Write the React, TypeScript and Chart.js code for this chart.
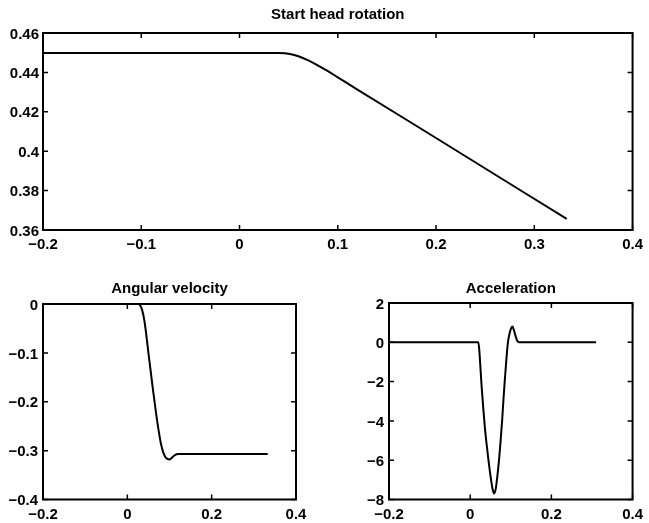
import React, { useEffect, useRef } from "react";
import { Chart, registerables } from "chart.js";

Chart.register(...registerables);

// ---- data ----
const rotationX = [-0.2, 0.04, 0.05, 0.06, 0.07, 0.08, 0.09, 0.1, 0.12, 0.2, 0.333];
const rotationY = [0.4498, 0.4498, 0.4495, 0.4482, 0.4461, 0.4435, 0.4406, 0.4375, 0.4313, 0.4067, 0.3656];

const velocityX = [-0.2, 0.02, 0.025, 0.03, 0.035, 0.04, 0.045, 0.05, 0.055, 0.06, 0.065, 0.07, 0.075, 0.08, 0.085, 0.09, 0.095, 0.1, 0.105, 0.11, 0.115, 0.12, 0.333];
const velocityY = [0, 0, 0, -0.002, -0.012, -0.032, -0.063, -0.1, -0.135, -0.17, -0.203, -0.235, -0.263, -0.287, -0.303, -0.313, -0.317, -0.318, -0.315, -0.311, -0.308, -0.307, -0.307];

const accelX = [-0.2, 0.02, 0.022, 0.025, 0.028, 0.032, 0.036, 0.04, 0.045, 0.05, 0.055, 0.059, 0.063, 0.067, 0.071, 0.075, 0.0786, 0.082, 0.085, 0.089, 0.093, 0.097, 0.101, 0.104, 0.108, 0.112, 0.116, 0.12, 0.31];
const accelY = [0, 0, -0.3, -1.2, -2.2, -3.3, -4.3, -5.1, -6.0, -6.8, -7.45, -7.7, -7.45, -6.8, -6.0, -5.0, -4.0, -2.9, -2.0, -0.9, 0, 0.45, 0.72, 0.8, 0.6, 0.3, 0.08, 0, 0];

// ---- tick labels ----
const rotationXTicks = [-0.2, -0.1, 0, 0.1, 0.2, 0.3, 0.4];
const rotationYTicks = [0.36, 0.38, 0.4, 0.42, 0.44, 0.46];
const bottomXTicks = [-0.2, 0, 0.2, 0.4];
const velocityYTicks = [-0.4, -0.3, -0.2, -0.1, 0];
const accelYTicks = [-8, -6, -4, -2, 0, 2];

const titles = ["Start head rotation", "Angular velocity", "Acceleration"];

const FONT = "'Liberation Sans', Arial, Helvetica, sans-serif";

const fmt = (v: number) => {
  const n = Number(Number(v).toFixed(4));
  return n < 0 ? "\u2212" + String(-n) : String(n);
};

const framePlugin = {
  id: "frame",
  afterDraw(chart: any) {
    const { ctx, chartArea: a, scales } = chart;
    const x = scales.x;
    const y = scales.y;
    ctx.save();
    ctx.strokeStyle = "#000";
    ctx.lineWidth = 2;
    ctx.strokeRect(a.left, a.top, a.right - a.left, a.bottom - a.top);
    ctx.lineWidth = 1.5;
    ctx.beginPath();
    const L = 5;
    x.ticks.forEach((t: any) => {
      const px = x.getPixelForValue(t.value);
      ctx.moveTo(px, a.bottom);
      ctx.lineTo(px, a.bottom - L);
      ctx.moveTo(px, a.top);
      ctx.lineTo(px, a.top + L);
    });
    y.ticks.forEach((t: any) => {
      const py = y.getPixelForValue(t.value);
      ctx.moveTo(a.left, py);
      ctx.lineTo(a.left + L, py);
      ctx.moveTo(a.right, py);
      ctx.lineTo(a.right - L, py);
    });
    ctx.stroke();
    ctx.restore();
  },
};

type Spec = {
  xs: number[];
  ys: number[];
  xTicks: number[];
  yTicks: number[];
  title: string;
  padRight: number;
  yWidth: number;
  xHeight: number;
  titlePadTop: number;
  titlePadBottom: number;
  xLabelPad: number;
  yLabelPad: number;
};

function makeConfig(s: Spec): any {
  const tickFont = { family: FONT, size: 15, weight: "bold" as const };
  return {
    type: "line",
    data: {
      datasets: [
        {
          data: s.xs.map((x, i) => ({ x, y: s.ys[i] })),
          borderColor: "#000",
          borderWidth: 2,
          pointRadius: 0,
          cubicInterpolationMode: "monotone",
          fill: false,
        },
      ],
    },
    options: {
      animation: false,
      responsive: false,
      devicePixelRatio: 1,
      layout: { padding: { left: 0, right: s.padRight, top: 0, bottom: 0 }, autoPadding: false },
      plugins: {
        legend: { display: false },
        tooltip: { enabled: false },
        title: {
          display: true,
          text: s.title,
          fullSize: false,
          color: "#000",
          font: { family: FONT, size: 15, weight: "bold", lineHeight: 1.2 },
          padding: { top: s.titlePadTop, bottom: s.titlePadBottom },
        },
      },
      scales: {
        x: {
          type: "linear",
          min: s.xTicks[0],
          max: s.xTicks[s.xTicks.length - 1],
          afterBuildTicks: (sc: any) => {
            sc.ticks = s.xTicks.map((v) => ({ value: v }));
          },
          afterFit: (sc: any) => {
            sc.height = s.xHeight;
          },
          grid: { display: false, drawTicks: false },
          border: { display: false },
          ticks: {
            callback: (v: number) => fmt(v),
            font: tickFont,
            color: "#000",
            padding: s.xLabelPad,
            maxRotation: 0,
            autoSkip: false,
          },
        },
        y: {
          type: "linear",
          min: s.yTicks[0],
          max: s.yTicks[s.yTicks.length - 1],
          afterBuildTicks: (sc: any) => {
            sc.ticks = s.yTicks.map((v) => ({ value: v }));
          },
          afterFit: (sc: any) => {
            sc.width = s.yWidth;
          },
          grid: { display: false, drawTicks: false },
          border: { display: false },
          ticks: {
            callback: (v: number) => fmt(v),
            font: tickFont,
            color: "#000",
            padding: s.yLabelPad,
            labelOffset: 1.5,
            autoSkip: false,
          },
        },
      },
    },
    plugins: [framePlugin],
  };
}

function Panel({ spec, left, top, width, height }: { spec: Spec; left: number; top: number; width: number; height: number }) {
  const ref = useRef<HTMLCanvasElement | null>(null);
  useEffect(() => {
    if (!ref.current) return;
    const chart = new Chart(ref.current, makeConfig(spec));
    return () => chart.destroy();
  }, []);
  return (
    <canvas
      ref={ref}
      width={width}
      height={height}
      style={{ position: "absolute", left, top, width, height }}
    />
  );
}

export default function App() {
  // title box height = 18 (15px * 1.2) + padding top + bottom
  const topSpec: Spec = {
    xs: rotationX,
    ys: rotationY,
    xTicks: rotationXTicks,
    yTicks: rotationYTicks,
    title: titles[0],
    padRight: 12,
    yWidth: 43,
    xHeight: 32,
    titlePadTop: 6,
    titlePadBottom: 9,
    xLabelPad: 6,
    yLabelPad: 4,
  };
  const velSpec: Spec = {
    xs: velocityX,
    ys: velocityY,
    xTicks: bottomXTicks,
    yTicks: velocityYTicks,
    title: titles[1],
    padRight: 34,
    yWidth: 43,
    xHeight: 23.5,
    titlePadTop: 18,
    titlePadBottom: 6,
    xLabelPad: 6,
    yLabelPad: 5,
  };
  const accSpec: Spec = {
    xs: accelX,
    ys: accelY,
    xTicks: bottomXTicks,
    yTicks: accelYTicks,
    title: titles[2],
    padRight: 9,
    yWidth: 59,
    xHeight: 23.5,
    titlePadTop: 18,
    titlePadBottom: 5,
    xLabelPad: 6,
    yLabelPad: 5,
  };
  return (
    <div style={{ position: "absolute", left: 0, top: 0, width: 649, height: 523, background: "#fff", overflow: "hidden" }}>
      <Panel spec={topSpec} left={0} top={0} width={649} height={262} />
      <Panel spec={velSpec} left={0} top={262} width={330} height={261} />
      <Panel spec={accSpec} left={330} top={262} width={319} height={261} />
    </div>
  );
}
